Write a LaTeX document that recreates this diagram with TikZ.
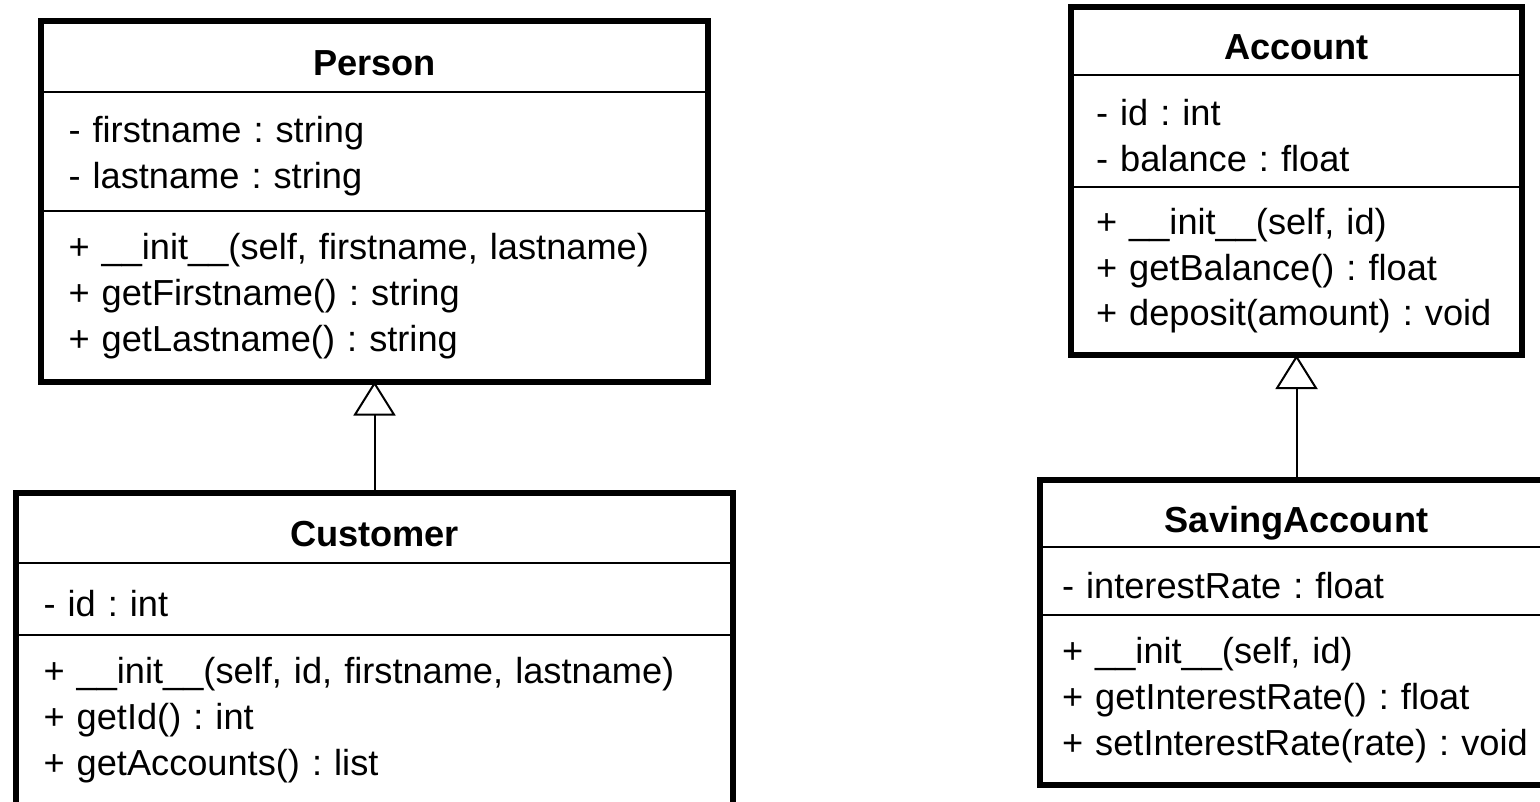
\documentclass[tikz,border=0pt]{standalone}
\usepackage{fontspec}
\setmainfont{Liberation Sans}
\usetikzlibrary{arrows.meta}
\frenchspacing

\begin{document}
\begin{tikzpicture}[font=\fontsize{20.6pt}{26pt}\selectfont,
 cell/.style={draw,line width=0.04cm,outer sep=0pt,inner ysep=0pt},
 head/.style={cell,font=\fontsize{20.6pt}{26pt}\selectfont\bfseries,text height=0.74cm,text depth=0pt},
 body/.style={cell,align=left,inner xsep=0.55cm},
 attr/.style={body,text height=0.72cm},
 frame/.style={line width=0.12cm},
 isa/.style={-{Triangle[open,width=0.84cm,length=0.68cm]},line width=0.04cm}]
\useasboundingbox (0,0) rectangle (30.8,-16.02);
% Person
\node[head,minimum width=13.34cm,minimum height=1.42cm] (pers-h) at (7.49,-1.13) {Person};
\node[attr,text width=12.24cm,minimum height=2.374cm] (pers-a) at (7.49,-3.027) {- firstname : string\\- lastname : string};
\node[body,text width=12.24cm,minimum height=3.416cm] (pers-m) at (7.49,-5.922) {+ \_\_init\_\_(self, firstname, lastname)\\+ getFirstname() : string\\+ getLastname() : string};
% Customer
\node[head,minimum width=14.34cm,minimum height=1.40cm] (cust-h) at (7.49,-10.56) {Customer};
\node[attr,text width=13.24cm,minimum height=1.44cm] (cust-a) at (7.49,-11.98) {- id : int};
\node[body,text width=13.24cm,minimum height=3.40cm] (cust-m) at (7.49,-14.40) {+ \_\_init\_\_(self, id, firstname, lastname)\\+ getId() : int\\+ getAccounts() : list};
% Account
\node[head,minimum width=9.02cm,minimum height=1.354cm] (acc-h) at (25.93,-0.823) {Account};
\node[attr,inner xsep=0.5cm,text width=8.02cm,minimum height=2.234cm] (acc-a) at (25.93,-2.617) {- id : int\\- balance : float};
\node[body,inner xsep=0.5cm,text width=8.02cm,minimum height=3.366cm] (acc-m) at (25.93,-5.417) {+ \_\_init\_\_(self, id)\\+ getBalance() : float\\+ deposit(amount) : void};
% SavingAccount
\node[head,minimum width=10.28cm,minimum height=1.34cm] (sav-h) at (25.93,-10.27) {SavingAccount};
\node[attr,inner xsep=0.45cm,text width=9.38cm,minimum height=1.36cm] (sav-a) at (25.93,-11.62) {- interestRate : float};
\node[body,inner xsep=0.45cm,text width=9.38cm,minimum height=3.40cm] (sav-m) at (25.93,-14.00) {+ \_\_init\_\_(self, id)\\+ getInterestRate() : float\\+ setInterestRate(rate) : void};
% outer frames
\draw[frame] (pers-h.north west) rectangle (pers-m.south east);
\draw[frame] (cust-h.north west) rectangle (cust-m.south east);
\draw[frame] (acc-h.north west) rectangle (acc-m.south east);
\draw[frame] (sav-h.north west) rectangle (sav-m.south east);
% inheritance
\draw[isa] (cust-h.north) -- (pers-m.south);
\draw[isa] (sav-h.north) -- (acc-m.south);
\end{tikzpicture}
\end{document}
